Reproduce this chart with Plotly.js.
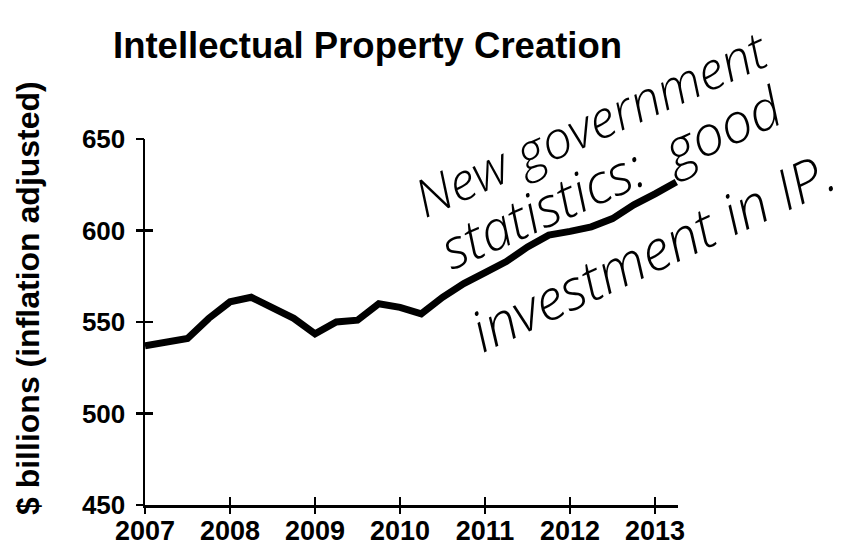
<!DOCTYPE html>
<html>
<head>
<meta charset="utf-8">
<script src="https://cdn.plot.ly/plotly-3.0.1.min.js"></script>
<style>html,body{margin:0;padding:0;background:#fff;}#chart{width:865px;height:552px;}</style>
</head>
<body>
<div id="chart"></div>
<script>
// ---- data ----
var quarters = [2007, 2007.25, 2007.5, 2007.75,
                2008, 2008.25, 2008.5, 2008.75,
                2009, 2009.25, 2009.5, 2009.75,
                2010, 2010.25, 2010.5, 2010.75,
                2011, 2011.25, 2011.5, 2011.75,
                2012, 2012.25, 2012.5, 2012.75,
                2013, 2013.25];
var ipInvestment = [537, 539, 541, 552,
                    561, 563.5, 558, 552,
                    543.5, 550, 551, 560,
                    558, 554.5, 563.5, 571,
                    577, 583, 591, 597.5,
                    599.5, 602, 606.5, 614,
                    620, 626.5];
var xTickVals = [2007, 2008, 2009, 2010, 2011, 2012, 2013];
var xTickText = ['2007', '2008', '2009', '2010', '2011', '2012', '2013'];
var yTickVals = [450, 500, 550, 600, 650];
var noteLines = ['New government', 'statistics:\u00a0\u00a0good', 'investment in IP.'];
var titleText = 'Intellectual Property Creation';
var yTitleText = '$ billions (inflation adjusted)';

// ---- layout helpers ----
var W = 865, H = 552;
var M = {l: 145, r: 187, t: 139, b: 47};
var PW = W - M.l - M.r, PH = H - M.t - M.b;
function px(x) { return (x - M.l) / PW; }
function py(y) { return (H - M.b - y) / PH; }

var bold = {family: 'Liberation Sans, Arial, sans-serif', weight: 'bold', color: '#000'};
function hand(size) {
  return {family: 'Open Sans, sans-serif', weight: 300, style: 'italic', color: '#000', size: size};
}

var xr = [2007, 2013.27], yr = [450, 650];

var traces = [
  {x: quarters, y: ipInvestment, type: 'scatter', mode: 'lines',
   line: {color: '#000', width: 7, shape: 'linear'}, hoverinfo: 'skip'},
  {x: [quarters[0]], y: [yTickVals[0]], xaxis: 'x2', yaxis: 'y2', type: 'scatter', mode: 'markers',
   marker: {opacity: 0}, hoverinfo: 'skip'}
];

// [center x px, center y px, angle, font size]
var notePos = [[590, 122, -24, 52], [610, 176, -24, 55], [652, 250, -25, 56]];
var annotations = noteLines.map(function (t, i) {
  return {text: t, xref: 'paper', yref: 'paper', x: px(notePos[i][0]), y: py(notePos[i][1]),
          xanchor: 'center', yanchor: 'middle', showarrow: false, textangle: notePos[i][2],
          font: hand(notePos[i][3])};
});
annotations.push({text: yTitleText, xref: 'paper', yref: 'paper', x: px(28), y: py(298),
  xanchor: 'center', yanchor: 'middle', showarrow: false, textangle: -90,
  font: Object.assign({}, bold, {size: 32})});

var layout = {
  width: W, height: H, margin: M, showlegend: false,
  paper_bgcolor: '#fff', plot_bgcolor: '#fff',
  title: {text: titleText, xref: 'container', yref: 'container', x: 113 / W, y: 1 - 45 / H,
          xanchor: 'left', yanchor: 'middle', font: Object.assign({}, bold, {size: 36.5})},
  xaxis: {range: xr, tickmode: 'array', tickvals: xTickVals, ticktext: xTickText,
          showgrid: false, zeroline: false, showline: true, linecolor: '#000', linewidth: 2.5,
          ticks: 'inside', ticklen: 8, tickwidth: 2.5, tickcolor: '#000', ticklabelstandoff: 0,
          tickfont: {family: 'Liberation Sans Narrow, Arial Narrow, Liberation Sans, sans-serif', weight: 'bold', size: 27, color: '#000'},
          fixedrange: true},
  yaxis: {range: yr, tickmode: 'array', tickvals: yTickVals,
          showgrid: false, zeroline: false, showline: true, linecolor: '#000', linewidth: 2.5,
          ticks: 'inside', ticklen: 8, tickwidth: 2.5, tickcolor: '#000', ticklabelstandoff: 12,
          tickfont: Object.assign({}, bold, {size: 26}), fixedrange: true},
  xaxis2: {range: xr, overlaying: 'x', tickmode: 'array', tickvals: xTickVals, showticklabels: false,
           showgrid: false, zeroline: false, showline: false, ticks: 'outside', ticklen: 8,
           tickwidth: 2.5, tickcolor: '#000', fixedrange: true},
  yaxis2: {range: yr, overlaying: 'y', tickmode: 'array', tickvals: yTickVals, showticklabels: false,
           showgrid: false, zeroline: false, showline: false, ticks: 'outside', ticklen: 8,
           tickwidth: 2.5, tickcolor: '#000', fixedrange: true},
  annotations: annotations
};

Plotly.newPlot('chart', traces, layout, {displayModeBar: false, staticPlot: true});
</script>
</body>
</html>
